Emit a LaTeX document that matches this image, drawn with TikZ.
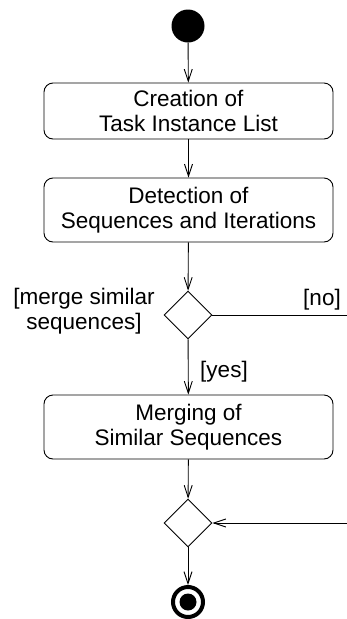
\documentclass[tikz,border=0pt]{standalone}
\usepackage{fontspec}
\setmainfont{Liberation Sans}
\usetikzlibrary{shapes.geometric,arrows.meta}
\begin{document}
\begin{tikzpicture}[x=1pt,y=-1pt,
  every node/.style={font=\fontsize{22.5}{25}\selectfont},
  actbox/.style={draw, line width=0.9pt, rounded corners=9pt, minimum width=289pt, align=center, inner sep=0pt},
  decision/.style={draw, diamond, line width=0.9pt, minimum width=48pt, minimum height=48pt, inner sep=0pt},
  flow/.style={line width=0.9pt, -{Straight Barb[length=12pt,width=8pt]}},
  plain/.style={line width=0.9pt},
  lbl/.style={align=center, inner sep=0pt}]
\useasboundingbox (0,0) rectangle (347,619);
\node[circle, fill=black, minimum size=33pt, inner sep=0pt] (start) at (188,26) {};
\node[actbox, minimum height=56pt] (b1) at (188.5,111) {Creation of\\Task Instance List};
\node[actbox, minimum height=64pt] (b2) at (188.5,210) {Detection of\\Sequences and Iterations};
\node[decision] (d1) at (188,315) {};
\node[actbox, minimum height=64pt] (b3) at (188.5,427) {Merging of\\Similar Sequences};
\node[decision] (d2) at (188,523) {};
\node[circle, draw, line width=4pt, minimum size=30pt, inner sep=0pt] (endring) at (188,602) {};
\node[circle, fill=black, minimum size=17pt, inner sep=0pt] (enddot) at (188,602) {};
\coordinate (noend) at (347,315);
\coordinate (loopin) at (347,523);
\node[lbl] (lmerge) at (84,311) {[merge similar\\sequences]};
\node[lbl] (lno) at (322,300) {[no]};
\node[lbl] (lyes) at (224,372) {[yes]};
\draw[flow] (start) -- (b1);
\draw[flow] (b1) -- (b2);
\draw[flow] (b2) -- (d1);
\draw[plain] (d1.east) -- (noend);
\draw[flow] (d1) -- (b3);
\draw[flow] (b3) -- (d2);
\draw[flow] (loopin) -- (d2.east);
\draw[flow] (d2) -- (endring);
\end{tikzpicture}
\end{document}
